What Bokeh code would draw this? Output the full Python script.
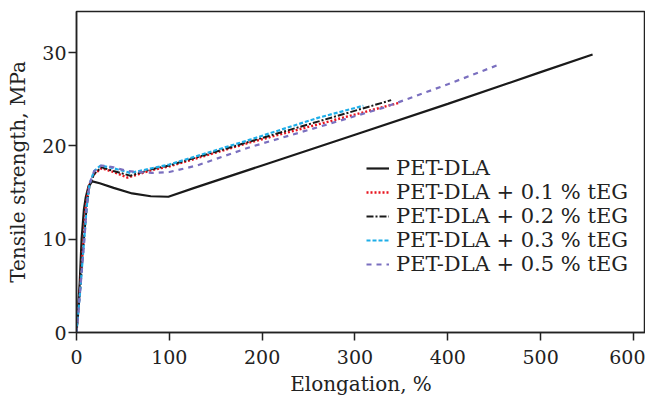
from bokeh.plotting import figure
from bokeh.models import Range1d, Legend, LegendItem, FixedTicker
from bokeh.embed import file_html
from bokeh.resources import INLINE

# Data (Elongation %, Tensile strength MPa)
pet_x = [0, 3.5, 5.5, 8, 10, 13, 17, 25, 40, 60, 80, 99, 127, 200, 300, 400, 500, 556]
pet_y = [0, 5.4, 10, 13.2, 14.5, 15.7, 16.2, 16.0, 15.5, 14.9, 14.6, 14.55, 15.5, 17.9, 21.2, 24.5, 27.9, 29.8]

teg01_x = [0, 4, 7.5, 10, 13, 18, 27, 40, 55, 81, 100, 188, 260, 347]
teg01_y = [0, 5, 10, 13.5, 15.5, 16.9, 17.6, 17.2, 16.6, 17.4, 17.8, 20.4, 22.3, 24.6]

teg02_x = [0, 4, 8, 11, 14, 19, 27, 40, 58, 81, 100, 188, 260, 339]
teg02_y = [0, 4.8, 10, 13.5, 15.7, 17.0, 17.7, 17.3, 16.8, 17.5, 17.9, 20.5, 22.6, 24.9]

teg03_x = [0, 4, 8.3, 11, 14, 19, 26, 40, 58, 81, 100, 188, 260, 309]
teg03_y = [0, 4.5, 10, 13.5, 15.9, 17.3, 17.9, 17.6, 17.1, 17.6, 18.0, 20.7, 23.0, 24.3]

teg05_x = [0, 4, 8.5, 11, 14, 19, 27, 40, 55, 81, 100, 130, 188, 260, 331, 400, 455]
teg05_y = [0, 4.5, 10, 13.5, 15.9, 17.3, 17.9, 17.7, 17.3, 17.1, 17.2, 17.9, 19.9, 22.0, 24.1, 26.6, 28.7]

labels = ["PET-DLA", "PET-DLA + 0.1 % tEG", "PET-DLA + 0.2 % tEG",
          "PET-DLA + 0.3 % tEG", "PET-DLA + 0.5 % tEG"]
x_ticks = [0, 100, 200, 300, 400, 500, 600]
y_ticks = [0, 10, 20, 30]

FONT = "DejaVu Serif"

p = figure(width=645, height=398, output_backend="svg", toolbar_location=None,
           x_range=Range1d(0, 613), y_range=Range1d(0, 34.4),
           min_border_left=76, min_border_right=0, min_border_top=11, min_border_bottom=64)

p.xgrid.visible = False
p.ygrid.visible = False
p.outline_line_color = "#222222"
p.outline_line_width = 1.5
p.background_fill_color = "white"
p.border_fill_color = "white"

for ax in (p.xaxis[0], p.yaxis[0]):
    ax.axis_line_color = "#222222"
    ax.axis_line_width = 1.5
    ax.major_tick_line_color = "#222222"
    ax.major_tick_line_width = 1.5
    ax.major_tick_in = 0
    ax.major_tick_out = 8
    ax.minor_tick_line_color = None
    ax.major_label_text_font = FONT
    ax.major_label_text_font_size = "19px"
    ax.major_label_text_color = "#222222"
    ax.axis_label_text_font = FONT
    ax.axis_label_text_font_size = "20px"
    ax.axis_label_text_font_style = "normal"
    ax.axis_label_text_color = "#222222"

p.xaxis.ticker = FixedTicker(ticks=x_ticks)
p.yaxis.ticker = FixedTicker(ticks=y_ticks)
p.xaxis.axis_label = "Elongation, %"
p.yaxis.axis_label = "Tensile strength, MPa"
p.xaxis.major_label_standoff = 9
p.yaxis.major_label_standoff = 2
p.xaxis.axis_label_standoff = 5
p.yaxis.axis_label_standoff = 9

r0 = p.line(pet_x, pet_y, line_color="#1a1a1a", line_width=2.2)
r1 = p.line(teg01_x, teg01_y, line_color="#e8141e", line_width=2.4, line_dash="2 2")
r2 = p.line(teg02_x, teg02_y, line_color="#1a1a1a", line_width=2, line_dash="7 2 2 2")
r3 = p.line(teg03_x, teg03_y, line_color="#1eaee8", line_width=2.2, line_dash="4 2")
r4 = p.line(teg05_x, teg05_y, line_color="#7a6fbf", line_width=2.2, line_dash="5 5")

legend = Legend(items=[LegendItem(label=l, renderers=[r]) for l, r in
                       zip(labels, [r0, r1, r2, r3, r4])],
                location=(290, 56))
legend.border_line_color = None
legend.background_fill_alpha = 0
legend.padding = 0
legend.margin = 0
legend.spacing = -2
legend.glyph_width = 23
legend.glyph_height = 20
legend.label_height = 20
legend.label_standoff = 7
legend.label_text_font = FONT
legend.label_text_font_size = "21px"
legend.label_text_color = "#222222"
p.add_layout(legend, "center")

open("out.html", "w").write(file_html(p, INLINE))
